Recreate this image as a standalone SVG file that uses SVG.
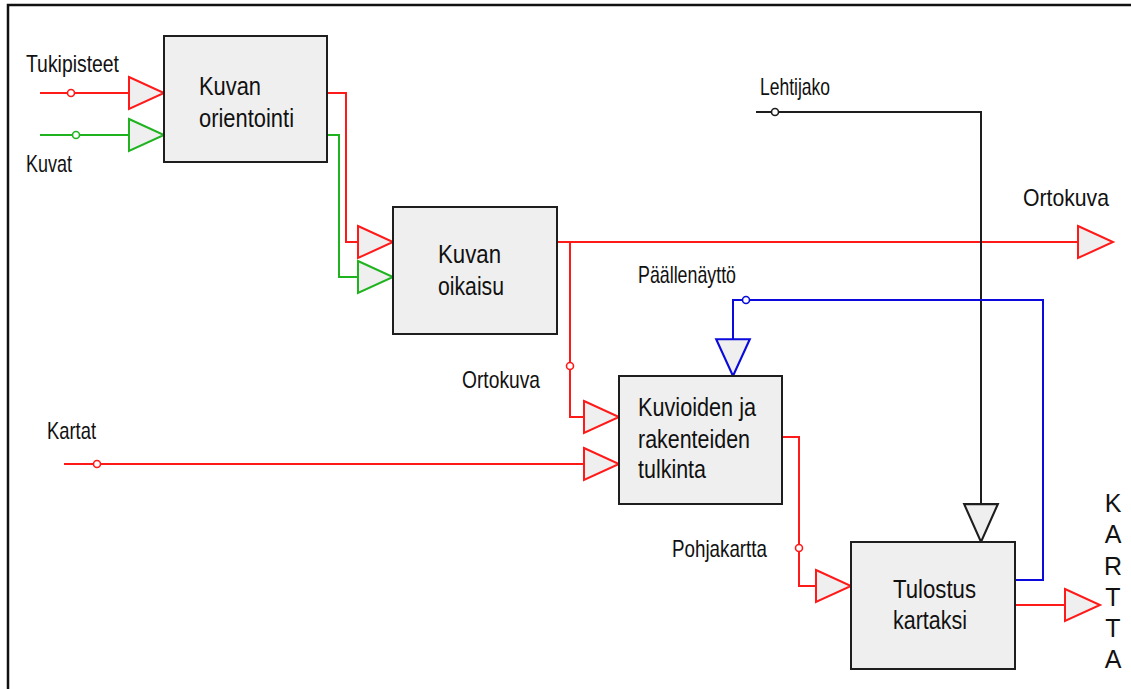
<svg xmlns="http://www.w3.org/2000/svg" width="1131" height="689" viewBox="0 0 1131 689">
  <style>
    .bg { fill: #ffffff; }
    .frame { fill: none; stroke: #111111; stroke-width: 2.5; }
    .box { fill: #efefef; stroke: #1e1e1e; stroke-width: 2; }
    .port { fill: #efefef; stroke-width: 2; stroke-linejoin: miter; }
    .wire { fill: none; stroke-width: 2; }
    .tap { fill: #ffffff; stroke-width: 1.6; }
    .red { stroke: #ff1a1a; }
    .green { stroke: #1fb41f; }
    .blue { stroke: #0a0adc; }
    .black { stroke: #1e1e1e; }
    text { font-family: "Liberation Sans", Arial, sans-serif; font-size: 25px; fill: #111111; }
    .lbl { font-size: 24px; }
  </style>
  <defs>
    <!-- input/output port: apex at origin, pointing along +x -->
    <path id="tri" d="M -35 -16 L 0 0 L -35 16 Z"/>
  </defs>

  <rect class="bg" x="0" y="0" width="1131" height="689"/>
  <path class="frame" d="M 8 700 V 5 H 1140"/>

  <!-- connectors -->
  <g id="connectors">
    <!-- Tukipisteet -> orientointi -->
    <path class="wire red" d="M 40 93 H 130"/>
    <circle class="tap red" cx="71" cy="93" r="3.5"/>
    <!-- Kuvat -> orientointi -->
    <path class="wire green" d="M 40 135 H 130"/>
    <circle class="tap green" cx="76" cy="135" r="3.5"/>
    <!-- orientointi -> oikaisu -->
    <path class="wire red" d="M 327 93 H 346 V 242 H 360"/>
    <path class="wire green" d="M 327 135 H 339 V 277 H 360"/>
    <!-- oikaisu -> Ortokuva out, with branch to tulkinta -->
    <path class="wire red" d="M 557 242 H 1078"/>
    <path class="wire red" d="M 570 242 V 417 H 585"/>
    <circle class="tap red" cx="570" cy="366" r="3.5"/>
    <!-- Kartat -> tulkinta -->
    <path class="wire red" d="M 64 464 H 585"/>
    <circle class="tap red" cx="97" cy="464" r="3.5"/>
    <!-- Lehtijako -> tulostus -->
    <path class="wire black" d="M 756 112 H 981 V 505"/>
    <circle class="tap black" cx="775" cy="112" r="3.5"/>
    <!-- tulostus feedback -> tulkinta (paallenaytto) -->
    <path class="wire blue" d="M 1015 580 H 1043 V 300 H 733 V 340"/>
    <circle class="tap blue" cx="746" cy="300" r="3.5"/>
    <!-- tulkinta -> tulostus (pohjakartta) -->
    <path class="wire red" d="M 782 437 H 799 V 586 H 817"/>
    <circle class="tap red" cx="799" cy="548" r="3.5"/>
    <!-- tulostus -> KARTTA -->
    <path class="wire red" d="M 1015 605 H 1066"/>

    <!-- ports -->
    <use href="#tri" class="port red" transform="translate(164,93)"/>
    <use href="#tri" class="port green" transform="translate(164,135)"/>
    <use href="#tri" class="port red" transform="translate(393,242)"/>
    <use href="#tri" class="port green" transform="translate(393,277)"/>
    <use href="#tri" class="port red" transform="translate(1113,242)"/>
    <use href="#tri" class="port red" transform="translate(619,417)"/>
    <use href="#tri" class="port red" transform="translate(619,464)"/>
    <use href="#tri" class="port blue" transform="translate(733,376) rotate(90) scale(1.05,1.05)"/>
    <use href="#tri" class="port black" transform="translate(981,542) rotate(90) scale(1.08,1.05)"/>
    <use href="#tri" class="port red" transform="translate(851,586)"/>
    <use href="#tri" class="port red" transform="translate(1100,605)"/>
  </g>

  <!-- signal labels -->
  <g id="labels">
    <text class="lbl" x="26" y="72" textLength="93" lengthAdjust="spacingAndGlyphs">Tukipisteet</text>
    <text class="lbl" x="26" y="172" textLength="46" lengthAdjust="spacingAndGlyphs">Kuvat</text>
    <text class="lbl" x="760" y="95" textLength="70" lengthAdjust="spacingAndGlyphs">Lehtijako</text>
    <text class="lbl" x="1023" y="206" textLength="86" lengthAdjust="spacingAndGlyphs">Ortokuva</text>
    <text class="lbl" x="638" y="283" textLength="98" lengthAdjust="spacingAndGlyphs">Päällenäyttö</text>
    <text class="lbl" x="462" y="388" textLength="78" lengthAdjust="spacingAndGlyphs">Ortokuva</text>
    <text class="lbl" x="47" y="439" textLength="49" lengthAdjust="spacingAndGlyphs">Kartat</text>
    <text class="lbl" x="672" y="557" textLength="95" lengthAdjust="spacingAndGlyphs">Pohjakartta</text>
    <g text-anchor="middle">
      <text x="1113" y="512">K</text>
      <text x="1113" y="543">A</text>
      <text x="1113" y="575">R</text>
      <text x="1113" y="606">T</text>
      <text x="1113" y="637">T</text>
      <text x="1113" y="668">A</text>
    </g>
  </g>

  <!-- process nodes -->
  <g id="kuvan-orientointi">
    <rect class="box" x="164" y="36" width="163" height="126"/>
    <text x="199" y="95" textLength="62" lengthAdjust="spacingAndGlyphs">Kuvan</text>
    <text x="199" y="127" textLength="95" lengthAdjust="spacingAndGlyphs">orientointi</text>
  </g>

  <g id="kuvan-oikaisu">
    <rect class="box" x="393" y="207" width="164" height="127"/>
    <text x="438" y="263" textLength="63" lengthAdjust="spacingAndGlyphs">Kuvan</text>
    <text x="438" y="295" textLength="66" lengthAdjust="spacingAndGlyphs">oikaisu</text>
  </g>

  <g id="kuvioiden-tulkinta">
    <rect class="box" x="619" y="376" width="163" height="128"/>
    <text x="638" y="416" textLength="118" lengthAdjust="spacingAndGlyphs">Kuvioiden ja</text>
    <text x="638" y="448" textLength="112" lengthAdjust="spacingAndGlyphs">rakenteiden</text>
    <text x="638" y="478" textLength="68" lengthAdjust="spacingAndGlyphs">tulkinta</text>
  </g>

  <g id="tulostus-kartaksi">
    <rect class="box" x="851" y="542" width="164" height="127"/>
    <text x="893" y="598" textLength="83" lengthAdjust="spacingAndGlyphs">Tulostus</text>
    <text x="893" y="629" textLength="74" lengthAdjust="spacingAndGlyphs">kartaksi</text>
  </g>
</svg>
